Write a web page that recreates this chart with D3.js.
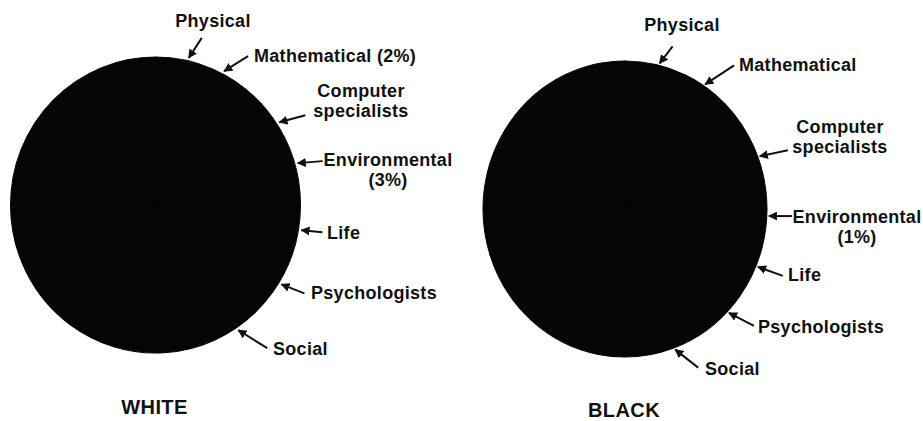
<!DOCTYPE html>
<html>
<head>
<meta charset="UTF-8"/>
<title>Scientists by field</title>
<script src="https://cdn.jsdelivr.net/npm/d3@7"></script>
<style>
body { margin: 0; background: #fff; }
svg { display: block; }
text {
  font-family: 'Liberation Sans', Arial, sans-serif;
  font-weight: bold;
  fill: #111;
}
text.label { font-size: 18px; letter-spacing: 0.3px; }
text.title { font-size: 20px; letter-spacing: 0.4px; }
line.arrow { stroke: #111; stroke-width: 2; }
</style>
</head>
<body>
<svg width="923" height="421"></svg>
<script>
// fields, clockwise order round each pie
const fields = ['Physical', 'Mathematical', 'Computer specialists', 'Environmental', 'Life', 'Psychologists', 'Social'];
// percent of scientists in each field (only the small ones are printed on the scan, the rest are estimates)
const whiteShare = [13, 2, 20, 3, 22, 15, 25];
const blackShare = [7, 4, 24, 1, 17, 17, 30];
const groups = ['WHITE', 'BLACK'];
// fields whose percentage is written next to the name
const whiteShown = ['Mathematical', 'Environmental'];
const blackShown = ['Environmental'];

// layout of the two pies and their call-outs (angle in degrees, clockwise from top)
const whiteLayout = {
  cx: 155.5, cy: 205, rx: 145, ry: 148, gap: 3, titleY: 414,
  callouts: [
    { angle: 13,    tail: [13, -20], pos: [213, 27],  anchor: 'middle' },
    { angle: 27.6,  tail: [24, -15], pos: [254, 62],  anchor: 'start', inline: true },
    { angle: 56.8,  tail: [26, -7],  pos: [361, 97],  anchor: 'middle' },
    { angle: 73.9,  tail: [25, -2],  pos: [388, 166], anchor: 'middle' },
    { angle: 99.6,  tail: [21, 2],   pos: [327, 239], anchor: 'start' },
    { angle: 121.7, tail: [23, 9],   pos: [311, 299], anchor: 'start' },
    { angle: 146,   tail: [29, 18],  pos: [273, 355], anchor: 'start' }
  ]
};
const blackLayout = {
  cx: 625, cy: 209, rx: 142, ry: 148, gap: 2, titleY: 417,
  callouts: [
    { angle: 13.9,  tail: [13, -17], pos: [682, 31],  anchor: 'middle' },
    { angle: 33.8,  tail: [29, -19], pos: [739, 71],  anchor: 'start', inline: true },
    { angle: 69.4,  tail: [28, -6],  pos: [840, 133], anchor: 'middle' },
    { angle: 92.7,  tail: [23, 0],   pos: [857, 223], anchor: 'middle' },
    { angle: 112.7, tail: [25, 9],   pos: [788, 281], anchor: 'start' },
    { angle: 133.8, tail: [25, 13],  pos: [758, 333], anchor: 'start' },
    { angle: 159.6, tail: [23, 18],  pos: [705, 375], anchor: 'start' }
  ]
};

const svg = d3.select('svg');

svg.append('defs').append('marker')
  .attr('id', 'head')
  .attr('viewBox', '0 0 10 10')
  .attr('refX', 9)
  .attr('refY', 5)
  .attr('markerWidth', 4.5)
  .attr('markerHeight', 4.5)
  .attr('orient', 'auto')
  .append('path')
  .attr('d', 'M0,0L10,5L0,10Z')
  .attr('fill', '#111');

const pie = d3.pie().sort(null);
const lineHeight = 20;

function drawPie(values, shown, title, lay) {
  const arc = d3.arc().innerRadius(0).outerRadius(lay.rx);

  const g = svg.append('g')
    .attr('transform', `translate(${lay.cx},${lay.cy}) scale(1,${lay.ry / lay.rx})`);

  g.selectAll('path')
    .data(pie(values))
    .enter()
    .append('path')
    .attr('d', arc)
    .attr('fill', '#050505')
    .attr('stroke', '#050505')
    .attr('stroke-width', 1);

  const items = fields.map((f, i) => {
    const c = lay.callouts[i];
    const a = c.angle * Math.PI / 180;
    const tip = [lay.cx + (lay.rx + lay.gap) * Math.sin(a), lay.cy - (lay.ry + lay.gap) * Math.cos(a)];
    let lines = f === 'Computer specialists' ? ['Computer', 'specialists'] : [f];
    if (shown.includes(f)) {
      if (c.inline) lines[lines.length - 1] += ` (${values[i]}%)`;
      else lines.push(`(${values[i]}%)`);
    }
    return { tip, c, lines };
  });

  svg.selectAll(null)
    .data(items)
    .enter()
    .append('line')
    .attr('class', 'arrow')
    .attr('x1', d => d.tip[0] + d.c.tail[0])
    .attr('y1', d => d.tip[1] + d.c.tail[1])
    .attr('x2', d => d.tip[0])
    .attr('y2', d => d.tip[1])
    .attr('marker-end', 'url(#head)');

  const labels = svg.selectAll(null)
    .data(items)
    .enter()
    .append('text')
    .attr('class', 'label')
    .attr('text-anchor', d => d.c.anchor)
    .attr('x', d => d.c.pos[0])
    .attr('y', d => d.c.pos[1]);

  labels.selectAll('tspan')
    .data(d => d.lines.map((t, k) => ({ t, k, x: d.c.pos[0] })))
    .enter()
    .append('tspan')
    .attr('x', d => d.x)
    .attr('dy', d => d.k === 0 ? 0 : lineHeight)
    .text(d => d.t);

  svg.append('text')
    .attr('class', 'title')
    .attr('x', lay.cx - 1)
    .attr('y', lay.titleY)
    .attr('text-anchor', 'middle')
    .text(title);
}

drawPie(whiteShare, whiteShown, groups[0], whiteLayout);
drawPie(blackShare, blackShown, groups[1], blackLayout);
</script>
</body>
</html>
